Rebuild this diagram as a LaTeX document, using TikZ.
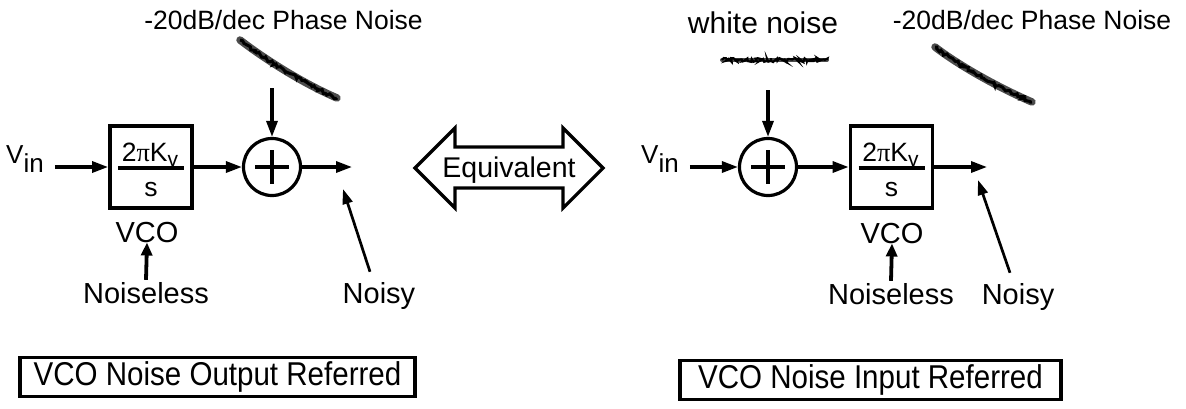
\documentclass[tikz,border=0pt]{standalone}
\usepackage{fontspec}
\setmainfont{Liberation Sans}
\newfontfamily\grk{Liberation Serif}
\usetikzlibrary{arrows.meta,calc,decorations.pathmorphing}
\begin{document}
\pgfmathsetseed{4242}
\begin{tikzpicture}[x=1pt,y=-1pt,
  lbl/.style={font=\fontsize{29}{34}\selectfont, inner sep=0pt, anchor=base},
  toplbl/.style={font=\fontsize{26.5}{30}\selectfont, inner sep=0pt, anchor=base},
  ftxt/.style={font=\fontsize{26.5}{30}\selectfont, inner sep=0pt, anchor=base},
  vinlbl/.style={font=\fontsize{26}{30}\selectfont, inner sep=0pt, anchor=base},
  blk/.style={draw, line width=3.8pt, minimum width=82pt, minimum height=82pt, inner sep=0pt},
  sumnode/.style={draw, circle, line width=3.2pt, minimum size=57pt, inner sep=0pt,
    path picture={\draw[line width=4.8pt]
      ($(path picture bounding box.center)+(-17,0)$) -- ($(path picture bounding box.center)+(17,0)$)
      ($(path picture bounding box.center)+(0,-17)$) -- ($(path picture bounding box.center)+(0,17)$);}},
  fracln/.style={line width=3.5pt},
  arr/.style={line width=3.2pt, -{Triangle[length=16pt,width=11pt]}},
  thinarr/.style={line width=2.7pt, -{Triangle[length=15pt,width=10pt]}},
  uparr/.style={line width=3.8pt, -{Triangle[length=13pt,width=11pt]}},
  refbox/.style={draw, line width=3.8pt, inner sep=0pt, minimum height=39pt,
    font=\fontsize{33}{38}\selectfont},
  noiseband/.style={draw=black!70, line width=7.5pt, line cap=round},
  noisefuzz/.style={draw=black, line width=3pt, decorate,
    decoration={random steps, segment length=2pt, amplitude=1.6pt}},
  wnband/.style={draw=black!70, line width=4pt, line cap=round},
  wnfuzz/.style={draw=black, line width=2.2pt, decorate,
    decoration={random steps, segment length=1.5pt, amplitude=2pt}},
  eqshape/.style={draw, line width=3.2pt, line join=miter}
]
\useasboundingbox (0,0) rectangle (1186,408);

%================ LEFT: output referred =================
\node[toplbl] (pn1) at (283.5,29) {-20dB/dec Phase Noise};
\coordinate (pnA1) at (240,40);
\coordinate (pnB1) at (337,98);
\draw[noiseband] (pnA1) .. controls (262,57) and (300,82) .. (pnB1);
\draw[noisefuzz] (pnA1) .. controls (262,57) and (300,82) .. (pnB1);

\node[blk] (box1) at (151,167) {};
\node[ftxt] (k1) at ($(box1.center)+(-1,-6)$) {2{\grk π}K\raisebox{-5pt}{\fontsize{21}{24}\selectfont v}};
\draw[fracln] ($(box1.center)+(-33,1)$) -- ($(box1.center)+(33,1)$);
\node[ftxt] (s1) at ($(box1.center)+(0,29)$) {s};

\node[sumnode] (sum1) at (272,167) {};
\node[vinlbl] (vin1) at (25,163) {V\raisebox{-9pt}{in}};
\coordinate (d1) at (272,88);
\coordinate (out1) at (352,167);

\draw[arr] ($(vin1.east |- box1.west)+(11,0)$) -- (box1.west);
\draw[arr] (box1.east) -- (sum1.west);
\draw[arr] (d1) -- (sum1.north);
\draw[arr] (sum1.east) -- (out1);

\node[lbl] (vco1) at (147,242) {VCO};
\node[lbl] (nl1) at (146,303) {Noiseless};
\node[lbl] (noisy1) at (379,303) {Noisy};
\coordinate (nt1) at (343,189);
\draw[uparr] ($(nl1.north)+(0,-2)$) -- (vco1.south);
\draw[thinarr] ($(noisy1.north)+(-9,-10)$) -- (nt1);

\node[refbox, minimum width=395pt] (ref1) at (217.5,377)
  {\scalebox{0.895}[1]{VCO Noise Output Referred}};

%================ EQUIVALENT =================
\node[lbl, font=\fontsize{28.5}{32}\selectfont] (eq) at (509,177) {Equivalent};
\draw[eqshape] (415,168) -- (455,128) -- (455,147) -- (563,147) -- (563,128)
  -- (603,168) -- (563,208) -- (563,188) -- (455,188) -- (455,208) -- cycle;

%================ RIGHT: input referred =================
\node[lbl, font=\fontsize{30}{34}\selectfont] (wn) at (763,33) {white noise};
\coordinate (wnA) at (722,60);
\coordinate (wnB) at (827,60);
\draw[wnband] (wnA) -- (wnB);
\draw[wnfuzz] (wnA) -- (wnB);

\node[toplbl] (pn2) at (1032,29) {-20dB/dec Phase Noise};
\coordinate (pnA2) at (935,47);
\coordinate (pnB2) at (1032,102);
\draw[noiseband] (pnA2) .. controls (957,64) and (995,86) .. (pnB2);
\draw[noisefuzz] (pnA2) .. controls (957,64) and (995,86) .. (pnB2);

\node[vinlbl] (vin2) at (660,163) {V\raisebox{-9pt}{in}};
\node[sumnode] (sum2) at (768,167) {};
\node[blk] (box2) at (891.5,167) {};
\node[ftxt] (k2) at ($(box2.center)+(-1,-6)$) {2{\grk π}K\raisebox{-5pt}{\fontsize{21}{24}\selectfont v}};
\draw[fracln] ($(box2.center)+(-33,1)$) -- ($(box2.center)+(33,1)$);
\node[ftxt] (s2) at ($(box2.center)+(0,29)$) {s};
\coordinate (d2) at (768,90);
\coordinate (out2) at (987,167);

\draw[arr] ($(vin2.east |- sum2.west)+(11,0)$) -- (sum2.west);
\draw[arr] (d2) -- (sum2.north);
\draw[arr] (sum2.east) -- (box2.west);
\draw[arr] (box2.east) -- (out2);

\node[lbl] (vco2) at (892,243) {VCO};
\node[lbl] (nl2) at (891,304) {Noiseless};
\node[lbl] (noisy2) at (1018,304) {Noisy};
\coordinate (nt2) at (978,180);
\draw[uparr] ($(nl2.north)+(0,-2)$) -- (vco2.south);
\draw[thinarr] ($(noisy2.north)+(-8,-10)$) -- (nt2);

\node[refbox, minimum width=381pt] (ref2) at (870.5,380)
  {\scalebox{0.895}[1]{VCO Noise Input Referred}};
\end{tikzpicture}
\end{document}
